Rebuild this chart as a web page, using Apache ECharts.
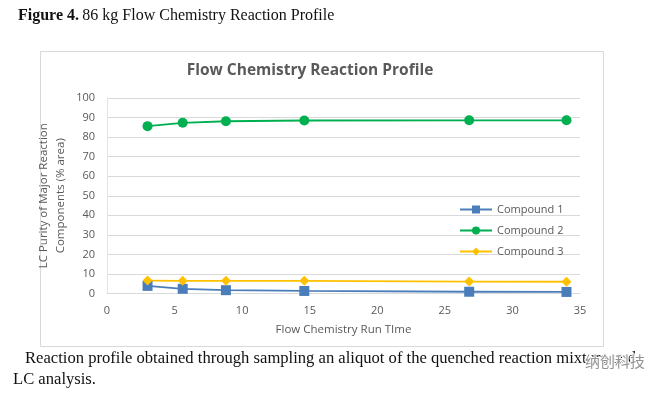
<!DOCTYPE html>
<html><head><meta charset="utf-8">
<script src="https://cdn.jsdelivr.net/npm/echarts@6/dist/echarts.min.js"></script>
<style>html,body{margin:0;padding:0;background:#fff}#c{width:664px;height:395px}</style>
</head><body><div id="c"></div>
<script>
const runTime = [3.0, 5.6, 8.8, 14.6, 26.8, 34.0];
const compound1 = [3.9, 2.4, 1.7, 1.3, 0.9, 0.8];
const compound2 = [85.6, 87.3, 88.1, 88.5, 88.6, 88.6];
const compound3 = [6.6, 6.5, 6.5, 6.5, 6.1, 6.0];
const seriesNames = ['Compound 1', 'Compound 2', 'Compound 3'];
const chartTitle = 'Flow Chemistry Reaction Profile';
const xName = 'Flow Chemistry Run TIme';
const yName = 'LC Purity of Major Reaction\nComponents (% area)';

const pair = ys => runTime.map((x, i) => [x, ys[i]]);
const chart = echarts.init(document.getElementById('c'), null, {renderer: 'canvas'});
const lab = '#595959';
const font = '"Open Sans", "Noto Sans", sans-serif';
const serif = '"Liberation Serif", serif';
chart.setOption({
  animation: false,
  backgroundColor: '#fff',
  textStyle: {fontFamily: font},
  graphic: [
    {type: 'rect', shape: {x: 40.5, y: 51.5, width: 563, height: 295}, style: {fill: '#fff', stroke: '#d9d9d9', lineWidth: 1}, z: -10},
    {type: 'text', left: 18, top: 8, style: {rich: {b: {fontFamily: serif, fontWeight: 'bold', fontSize: 16, fill: '#111'}, n: {fontFamily: serif, fontSize: 16, fill: '#111'}}, text: '{b|Figure 4.} {n|86 kg Flow Chemistry Reaction Profile}'}},
    {type: 'text', x: 310, y: 71, style: {text: chartTitle, fontFamily: font, fontWeight: 'bold', fontSize: 15.5, fill: lab, align: 'center', verticalAlign: 'middle'}},
    {type: 'text', left: 25, top: 350, style: {text: 'Reaction profile obtained through sampling an aliquot of the quenched reaction mixture and', fontFamily: serif, fontSize: 16.6, fill: '#111'}},
    {type: 'text', left: 13, top: 371, style: {text: 'LC analysis.', fontFamily: serif, fontSize: 16.6, fill: '#111'}},
    {type: 'text', left: 584, top: 353, style: {text: '纳创科技', fontFamily: '"Noto Sans CJK SC", sans-serif', fontSize: 15, fill: 'rgba(120,120,120,0.8)', stroke: '#fff', lineWidth: 2}}
  ],
  grid: {left: 107, right: 84, top: 98, bottom: 101.5, containLabel: false},
  legend: {
    data: seriesNames, orient: 'vertical', left: 454, top: 199, itemGap: 10,
    itemWidth: 32, itemHeight: 10,
    textStyle: {color: lab, fontSize: 11, fontFamily: font}
  },
  xAxis: {
    type: 'value', min: 0, max: 35, interval: 5,
    name: xName, nameLocation: 'middle', nameGap: 30,
    nameTextStyle: {color: lab, fontSize: 11.5, fontFamily: font},
    axisLine: {show: true, lineStyle: {color: '#d9d9d9'}},
    axisTick: {show: false},
    axisLabel: {color: lab, fontSize: 11, margin: 12, fontFamily: font},
    splitLine: {show: false}
  },
  yAxis: {
    type: 'value', min: 0, max: 100, interval: 10,
    name: yName, nameLocation: 'middle', nameGap: 38, nameMoveOverlap: false,
    nameTextStyle: {color: lab, fontSize: 11.5, lineHeight: 17, fontFamily: font},
    axisLine: {show: true, lineStyle: {color: '#e3e3e3'}},
    axisTick: {show: false},
    axisLabel: {color: lab, fontSize: 11, margin: 12, fontFamily: font},
    splitLine: {lineStyle: {color: '#d9d9d9'}}
  },
  series: [
    {name: seriesNames[0], type: 'line', data: pair(compound1), symbol: 'rect', symbolSize: 10,
     itemStyle: {color: '#4a7ebb'}, lineStyle: {color: '#4a7ebb', width: 1.8}},
    {name: seriesNames[1], type: 'line', data: pair(compound2), symbol: 'circle', symbolSize: 10,
     itemStyle: {color: '#00b050'}, lineStyle: {color: '#00b050', width: 1.8}},
    {name: seriesNames[2], type: 'line', data: pair(compound3), symbol: 'diamond', symbolSize: 10,
     itemStyle: {color: '#ffc000'}, lineStyle: {color: '#ffc000', width: 1.8}}
  ]
});
</script></body></html>
